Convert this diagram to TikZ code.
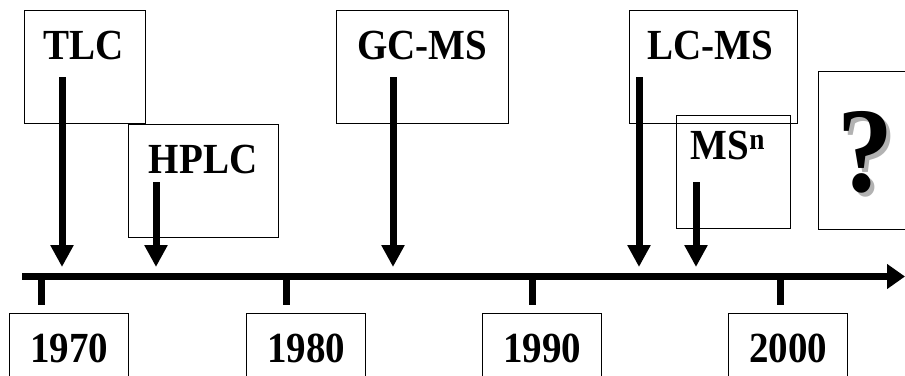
\documentclass[tikz,border=0pt]{standalone}
\usepackage{fontspec}
\usepackage{graphicx}
\setmainfont{Liberation Serif}
\usetikzlibrary{arrows.meta}
\newcommand\mytall[1]{\scalebox{1}[1.1]{#1}}
\begin{document}
\begin{tikzpicture}[x=1pt,y=-1pt,
  box/.style={draw, line width=1pt, inner sep=0pt, rectangle},
  lbl/.style={font=\fontsize{39}{39}\selectfont\bfseries, anchor=base, inner sep=0pt},
  down/.style={line width=7pt, -{Triangle[width=22pt,length=22pt]}},
  axisline/.style={line width=7pt, -{Triangle[width=24pt,length=18pt]}},
  tickline/.style={line width=7pt}]
\useasboundingbox (0,0) rectangle (905,375);
% event boxes
\node[box, minimum width=121pt, minimum height=113pt] (tlcbox) at (84.5,66.5) {};
\node[box, minimum width=150pt, minimum height=113pt] (hplcbox) at (203,180.5) {};
\node[box, minimum width=172pt, minimum height=113pt] (gcbox) at (422,66.5) {};
\node[box, minimum width=168pt, minimum height=113pt] (lcbox) at (713,66.5) {};
\node[box, minimum width=114pt, minimum height=113pt] (msbox) at (733,171.5) {};
\node[box, minimum width=112pt, minimum height=158pt] (qbox) at (874,150) {};
% labels
\node[lbl] (tlc) at (84,59) {\mytall{TLC}};
\node[lbl] (hplc) at (203,173) {\mytall{HPLC}};
\node[lbl] (gc) at (422,59) {\mytall{GC-MS}};
\node[lbl] (lc) at (710,59) {\mytall{LC-MS}};
\node[lbl] (ms) at (728,159) {\mytall{MS\textsuperscript{n}}};
\node[font=\fontsize{112}{112}\selectfont\bfseries, anchor=base, inner sep=0pt] (q) at (865,191)
  {\rlap{\kern4pt\raisebox{-4pt}{\color{black!30}\scalebox{1}[1.08]{?}}}\scalebox{1}[1.08]{?}};
% axis
\coordinate (axs) at (22,276.5);
\coordinate (axe) at (905,276.5);
\draw[axisline] (axs) -- (axe);
% ticks and year boxes
\foreach \n/\tx/\bx in {a/41/68.5, b/286/305.5, c/532/542, d/780/787.5}{
  \coordinate (t\n) at (\tx,279);
  \coordinate (u\n) at (\tx,305);
  \draw[tickline] (t\n) -- (u\n);
  \node[box, minimum width=119pt, minimum height=100pt, anchor=north] (y\n) at (\bx,313) {};
}
\node[lbl] (ya) at (69,362) {\mytall{1970}};
\node[lbl] (yb) at (306,362) {\mytall{1980}};
\node[lbl] (yc) at (542,362) {\mytall{1990}};
\node[lbl] (yd) at (788,362) {\mytall{2000}};
% arrows
\coordinate (s1) at (62,77);   \coordinate (e1) at (62,267);
\coordinate (s2) at (156,182); \coordinate (e2) at (156,267);
\coordinate (s3) at (393,77);  \coordinate (e3) at (393,267);
\coordinate (s4) at (639,77);  \coordinate (e4) at (639,267);
\coordinate (s5) at (696,182); \coordinate (e5) at (696,267);
\foreach \i in {1,...,5}{\draw[down] (s\i) -- (e\i);}
\end{tikzpicture}
\end{document}
